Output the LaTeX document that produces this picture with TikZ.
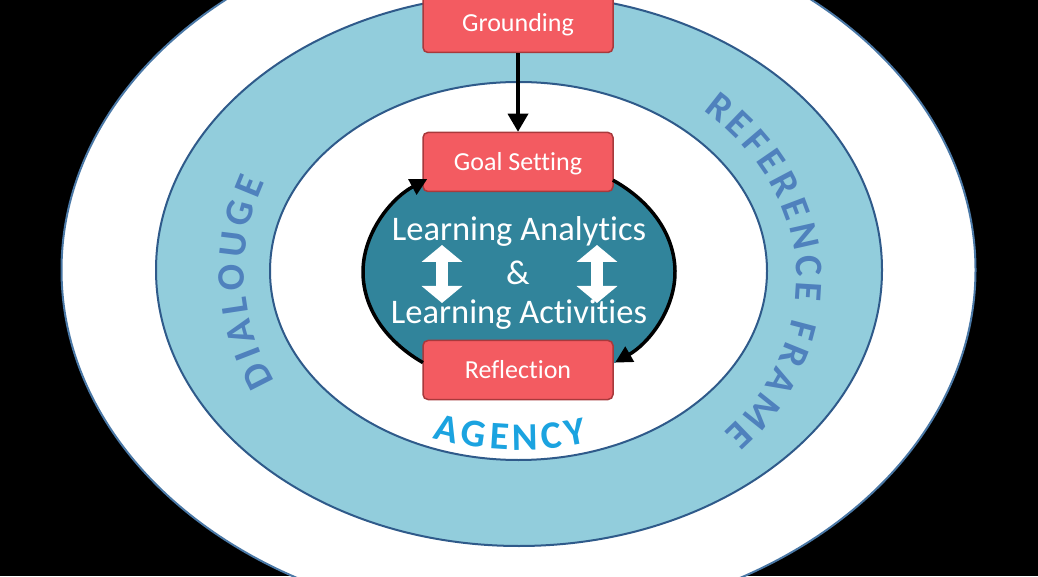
\documentclass[tikz,border=0pt]{standalone}
\usepackage{fontspec}
\setmainfont{Carlito}[Ligatures=NoCommon]
\usetikzlibrary{arrows.meta,decorations.text,calc}
\definecolor{ringfill}{HTML}{92CDDC}
\definecolor{ringedge}{HTML}{2F5A8A}
\definecolor{outeredge}{HTML}{4A78A6}
\definecolor{tealfill}{HTML}{31849B}
\definecolor{boxfill}{HTML}{F35B61}
\definecolor{boxedge}{HTML}{A8393C}
\definecolor{ringblue}{HTML}{4F81BD}
\definecolor{agencyblue}{HTML}{1BA3E0}
\newcommand\ringfnt{\fontsize{39}{39}\selectfont\bfseries\color{ringblue}}
\newcommand\agencyfnt{\fontsize{39}{39}\selectfont\bfseries\color{agencyblue}}
\tikzset{
  stagebox/.style={draw=boxedge, fill=boxfill, line width=1.5pt, rounded corners=5pt,
    minimum width=190pt, minimum height=59pt, inner sep=0pt, text=white,
    font=\fontsize{26}{30}\selectfont, text height=16.5pt, text depth=0pt},
  bigtext/.style={text=white, font=\fontsize{34.5}{40}\selectfont, inner sep=0pt, anchor=base},
  flowarrow/.style={draw=black, line width=3.5pt, -{Triangle[width=20pt,length=18pt]}},
  looparrow/.style={draw=black, line width=3.5pt, -{Triangle[width=17pt,length=17pt]}},
  dblarrow/.style={draw=white, line width=12pt,
    {Triangle[width=40pt,length=17pt]}-{Triangle[width=40pt,length=17pt]}},
  ringlabel/.style={decorate, decoration={text along path, text align=fit to path,
    text={|\ringfnt|#1}}},
  agencylabel/.style={decorate, decoration={text along path, text align=fit to path,
    text={|\agencyfnt|#1}}}
}
\begin{document}
\begin{tikzpicture}[x=1pt,y=1pt]
\useasboundingbox (0,0) rectangle (1038,576);
\fill[black] (0,0) rectangle (1038,576);
\clip (0,0) rectangle (1038,576);
% rings
\filldraw[fill=white, draw=outeredge, line width=2pt] (518.5,306) ellipse [x radius=457, y radius=352];
\filldraw[fill=ringfill, draw=ringedge, line width=2pt] (519,306) ellipse [x radius=363, y radius=276];
\filldraw[fill=white, draw=ringedge, line width=2pt] (518.5,305) ellipse [x radius=248.5, y radius=189];
\fill[tealfill] (519,304) ellipse [x radius=156, y radius=115];
% curved labels
\coordinate (dstart) at ($(519,304)+(207:274.5 and 241.5)$);
\path[ringlabel={DIALOUGE}] (dstart) arc [start angle=207, end angle=158, x radius=274.5, y radius=241.5];
\coordinate (rstart) at ($(519,296)+(48.5:277.5 and 226.5)$);
\path[ringlabel={REFERENCE FRAME}] (rstart) arc [start angle=48.5, end angle=-42.5, x radius=277.5, y radius=226.5];
\coordinate (astart) at ($(519,306)+(249:241 and 180)$);
\path[agencylabel={AGENCY}] (astart) arc [start angle=249, end angle=286.5, x radius=241, y radius=180];
% centre text
\node[bigtext] (la1) at (519,335) {Learning Analytics};
\node[bigtext] (amp) at (518,291) {\&};
\node[bigtext] (la2) at (519,252) {Learning Activities};
\coordinate (lt) at (442,331);
\coordinate (lb) at (442,273);
\coordinate (rt) at (597,331);
\coordinate (rb) at (597,273);
\draw[dblarrow] (lt) -- (lb);
\draw[dblarrow] (rt) -- (rb);
% boxes
\node[stagebox] (ground) at (518,553) {Grounding};
\node[stagebox] (goal) at (518,414) {Goal Setting};
\node[stagebox] (refl) at (518,206) {Reflection};
% connectors
\draw[flowarrow] (ground.south) -- (goal.north);
\coordinate (lstart) at ($(519,304)+(232:156 and 115)$);
\draw[looparrow] (lstart) arc [start angle=232, end angle=126, x radius=156, y radius=115];
\coordinate (rgstart) at ($(519,304)+(53:156 and 115)$);
\draw[looparrow] (rgstart) arc [start angle=53, end angle=-52, x radius=156, y radius=115];
\end{tikzpicture}
\end{document}
